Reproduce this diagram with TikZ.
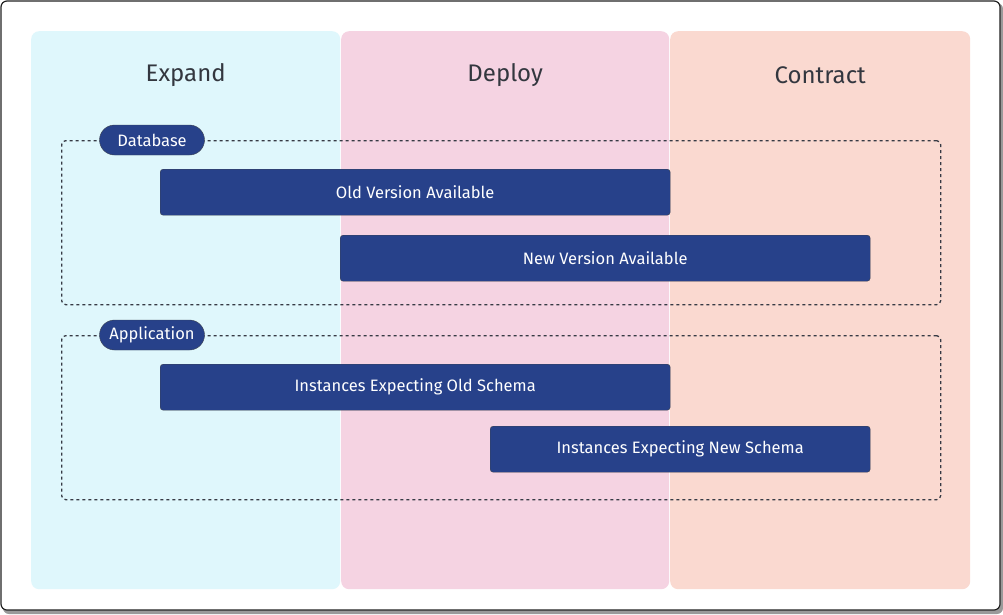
\documentclass[tikz,border=0pt]{standalone}
\usepackage{fontspec}
\setmainfont{Fira Sans}
\usepackage{xcolor}
\definecolor{CFrame}{HTML}{222222}
\definecolor{CShadow}{HTML}{9A9A9A}
\definecolor{CExpand}{HTML}{DFF7FC}
\definecolor{CDeploy}{HTML}{F5D3E2}
\definecolor{CContract}{HTML}{FAD9D0}
\definecolor{CBar}{HTML}{27418A}
\definecolor{CBarEdge}{HTML}{3C4250}
\definecolor{CText}{HTML}{33373F}
\definecolor{CDash}{HTML}{363A44}
\usetikzlibrary{positioning}
\tikzstyle{phaseNode}=[rectangle, rounded corners=8pt, anchor=north west,
  minimum height=558pt, inner sep=0pt]
\tikzstyle{titleNode}=[font=\fontsize{24}{28}\selectfont, text=CText]
\tikzstyle{barNode}=[rectangle, rounded corners=3pt, draw=CBarEdge, fill=CBar, text=white,
  anchor=north west, minimum height=46pt, inner sep=0pt, font=\fontsize{16.5}{20}\selectfont]
\tikzstyle{groupBox}=[rectangle, draw=CDash, line width=1.3pt, dash pattern=on 3pt off 3pt, rounded corners=4pt,
  anchor=north west, minimum width=879pt, minimum height=164pt, inner sep=0pt]
\tikzstyle{pillNode}=[rectangle, rounded corners=15pt, draw=CBarEdge, fill=CBar, text=white,
  minimum width=105pt, minimum height=30pt, inner sep=0pt, font=\fontsize{16.5}{20}\selectfont]

\begin{document}
\begin{tikzpicture}[x=1pt, y=-1pt]
\useasboundingbox (0,0) rectangle (1003,614);
% frame
\fill[CShadow, rounded corners=6pt] (3,3) rectangle (1003,614);
\draw[CFrame, fill=white, line width=1.2pt, rounded corners=6pt] (1,1) rectangle (1000,610);
% phases
\node[phaseNode, fill=CExpand, minimum width=309pt] (ex) at (31,31) {};
\node[phaseNode, fill=CDeploy, minimum width=328pt] (de) at (341,31) {};
\node[phaseNode, fill=CContract, minimum width=300pt] (co) at (670,31) {};
\node[titleNode] (tEx) at ([yshift=-44pt]ex.north) {Expand};
\node[titleNode] (tDe) at ([yshift=-44pt]de.north) {Deploy};
\node[titleNode] (tCo) at ([yshift=-44pt]co.north) {Contract};
% database
\node[groupBox] (db) at (61,140) {};
\node[pillNode] (dbLabel) at ([xshift=91pt]db.north west) {Database};
\node[barNode, minimum width=510pt] (oldVer) at (160,169) {Old Version Available};
\node[barNode, minimum width=530pt] (newVer) at (340,235) {New Version Available};
% application
\node[groupBox] (app) at (61,335) {};
\node[pillNode] (appLabel) at ([xshift=91pt]app.north west) {Application};
\node[barNode, minimum width=510pt] (oldInst) at (160,364) {Instances Expecting Old Schema};
\node[barNode, minimum width=380pt] (newInst) at (490,426) {Instances Expecting New Schema};
\end{tikzpicture}
\end{document}
